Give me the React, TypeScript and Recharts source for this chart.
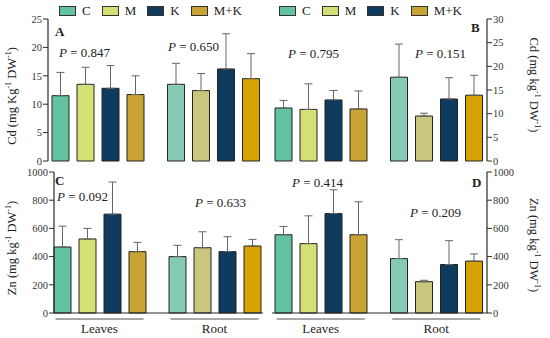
import React from 'react';
import { BarChart, Bar, XAxis, YAxis, ErrorBar, Cell } from 'recharts';

const FONT = "'Liberation Serif', 'Times New Roman', Times, serif";

// ---------- data ----------
const organs = ['Leaves', 'Root'];
const treatments = ['C', 'M', 'K', 'M+K'];
const seriesKeys = ['C', 'M', 'K', 'MK'];

const leafColors = ['#62c2a2', '#d5e074', '#0f3b5f', '#c9a434'];
const rootColors = ['#84cab7', '#c9c77d', '#0f3b5f', '#d7a302'];

const cdTicksA = [0, 5, 10, 15, 20, 25];
const cdTicksB = [0, 5, 10, 15, 20, 25, 30];
const znTicks = [0, 200, 400, 600, 800, 1000];

// means [organ][treatment], upper error-bar ends [organ][treatment]
const meansA = [[11.5, 13.5, 12.8, 11.7], [13.5, 12.4, 16.2, 14.5]];
const upperA = [[15.6, 16.5, 16.8, 15.0], [17.2, 15.4, 22.4, 18.9]];

const meansB = [[11.2, 10.9, 12.9, 11.0], [17.7, 9.5, 13.1, 13.9]];
const upperB = [[12.8, 16.3, 14.9, 14.8], [24.7, 10.1, 17.6, 18.1]];

const meansC = [[468, 525, 701, 435], [400, 463, 435, 475]];
const upperC = [[616, 600, 929, 501], [480, 576, 541, 522]];

const meansD = [[555, 492, 705, 555], [386, 222, 344, 368]];
const upperD = [[614, 689, 874, 789], [520, 232, 513, 419]];

const pA = ['0.847', '0.650'];
const pB = ['0.795', '0.151'];
const pC = ['0.092', '0.633'];
const pD = ['0.414', '0.209'];

function buildRows(means: number[][], upper: number[][]) {
  return organs.map((organ, i) => {
    const row: any = { organ };
    seriesKeys.forEach((k, j) => {
      row[k] = means[i][j];
      row[k + '_err'] = [0, +(upper[i][j] - means[i][j]).toFixed(2)];
    });
    return row;
  });
}

// ---------- helpers ----------
const AXIS = '#2a2a2a';

function AxisTitle(props: any) {
  const { cx, cy, rot, pre, mid } = props;
  return (
    <text
      x={cx}
      y={cy}
      transform={`rotate(${rot} ${cx} ${cy})`}
      textAnchor="middle"
      dominantBaseline="middle"
      fontFamily={FONT}
      fontSize={12.5}
      fill="#222"
    >
      <tspan>{pre}</tspan>
      <tspan dy={-4} fontSize={8}>-1</tspan>
      <tspan dy={4}>{mid}</tspan>
      <tspan dy={-4} fontSize={8}>-1</tspan>
      <tspan dy={4}>)</tspan>
    </text>
  );
}

function OrganTick(props: any) {
  const { x, y, payload } = props;
  return (
    <g>
      <line x1={x - 44} x2={x + 44} y1={y + 6} y2={y + 6} stroke="#8a8a8a" strokeWidth={1.6} />
      <text x={x} y={y + 20} textAnchor="middle" fontFamily={FONT} fontSize={13} fill="#222">
        {payload.value}
      </text>
    </g>
  );
}

function TreatmentLegend(props: { left: number; top: number }) {
  return (
    <div
      style={{
        position: 'absolute',
        left: props.left,
        top: props.top,
        display: 'flex',
        alignItems: 'center',
        fontFamily: FONT,
        fontSize: 13,
        lineHeight: '14px',
        color: '#222',
        whiteSpace: 'nowrap',
      }}
    >
      {treatments.map((t, i) => (
        <div key={t} style={{ display: 'flex', alignItems: 'center', marginRight: 11 }}>
          <span
            style={{
              display: 'inline-block',
              width: 15,
              height: 8,
              background: leafColors[i],
              border: '1px solid #333',
              marginRight: 6,
            }}
          />
          <span>{t}</span>
        </div>
      ))}
    </div>
  );
}

type PanelProps = {
  rows: any[];
  ticks: number[];
  side: 'left' | 'right';
  frameL: number;
  frameR: number;
  frameT: number;
  frameB: number;
  padL: number;
  padR: number;
  showX: boolean;
  title: any;
};

function Panel(p: PanelProps) {
  const axisW = 40;
  const xH = p.showX ? 25 : 0;
  const margin = {
    top: p.frameT,
    bottom: 338 - p.frameB - xH,
    left: p.side === 'left' ? p.frameL - axisW : p.frameL,
    right: p.side === 'right' ? 550 - p.frameR - axisW : 550 - p.frameR,
  };
  const yMax = p.ticks[p.ticks.length - 1];
  return (
    <div style={{ position: 'absolute', left: 0, top: 0 }}>
      <BarChart width={550} height={338} data={p.rows} margin={margin} barCategoryGap={12} barGap={8}>
        <XAxis
          xAxisId="x"
          dataKey="organ"
          padding={{ left: p.padL, right: p.padR }}
          height={xH}
          axisLine={{ stroke: AXIS, strokeWidth: 1.2 }}
          tickLine={false}
          tickSize={0}
          tickMargin={0}
          tick={p.showX ? <OrganTick /> : false}
          interval={0}
        />
        <XAxis
          xAxisId="top"
          orientation="top"
          type="number"
          domain={[0, 1]}
          height={0}
          tick={false}
          tickLine={false}
          axisLine={{ stroke: AXIS, strokeWidth: 1.2 }}
        />
        <YAxis
          yAxisId="v"
          orientation={p.side}
          width={axisW}
          domain={[0, yMax]}
          ticks={p.ticks}
          interval={0}
          tickSize={5}
          tickMargin={1}
          axisLine={{ stroke: AXIS, strokeWidth: 1.2 }}
          tickLine={{ stroke: AXIS }}
          tick={{ fontSize: 10.5, fill: '#333', fontFamily: FONT }}
          label={p.title}
        />
        <YAxis
          yAxisId="f"
          orientation={p.side === 'left' ? 'right' : 'left'}
          type="number"
          domain={[0, 1]}
          width={0}
          tick={false}
          tickLine={false}
          axisLine={{ stroke: AXIS, strokeWidth: 1.2 }}
        />
        {seriesKeys.map((k, j) => (
          <Bar
            key={k}
            xAxisId="x"
            yAxisId="v"
            dataKey={k}
            name={treatments[j]}
            fill={leafColors[j]}
            stroke="#222"
            strokeWidth={1}
            isAnimationActive={false}
          >
            {p.rows.map((r, i) => (
              <Cell key={r.organ} fill={i === 0 ? leafColors[j] : rootColors[j]} />
            ))}
            <ErrorBar dataKey={k + '_err'} direction="y" width={4} stroke="#666" strokeWidth={1} />
          </Bar>
        ))}
      </BarChart>
    </div>
  );
}

function PText(props: { x: number; y: number; v: string }) {
  return (
    <text x={props.x} y={props.y} fontFamily={FONT} fontSize={13} fill="#222">
      <tspan fontStyle="italic">P</tspan>
      <tspan> = {props.v}</tspan>
    </text>
  );
}

function Letter(props: { x: number; y: number; t: string }) {
  return (
    <text x={props.x} y={props.y} fontFamily={FONT} fontSize={13} fontWeight="bold" fill="#222">
      {props.t}
    </text>
  );
}

export default function App() {
  const rowsA = buildRows(meansA, upperA);
  const rowsB = buildRows(meansB, upperB);
  const rowsC = buildRows(meansC, upperC);
  const rowsD = buildRows(meansD, upperD);
  return (
    <div style={{ position: 'absolute', left: 0, top: 0, width: 550, height: 338, background: '#fff', overflow: 'hidden' }}>
      <Panel
        rows={rowsA}
        ticks={cdTicksA}
        side="left"
        frameL={48}
        frameR={263}
        frameT={19}
        frameB={161}
        padL={-8}
        padR={-8}
        showX={false}
        title={<AxisTitle cx={13} cy={96} rot={-90} pre="Cd (mg Kg" mid=" DW" />}
      />
      <Panel
        rows={rowsB}
        ticks={cdTicksB}
        side="right"
        frameL={272}
        frameR={487}
        frameT={19}
        frameB={161}
        padL={-9}
        padR={-7}
        showX={false}
        title={<AxisTitle cx={533} cy={85} rot={90} pre="Cd (mg kg" mid="  DW" />}
      />
      <Panel
        rows={rowsC}
        ticks={znTicks}
        side="left"
        frameL={54}
        frameR={263}
        frameT={172}
        frameB={313}
        padL={-12}
        padR={-9}
        showX={true}
        title={<AxisTitle cx={13} cy={248} rot={-90} pre="Zn (mg kg" mid=" DW" />}
      />
      <Panel
        rows={rowsD}
        ticks={znTicks}
        side="right"
        frameL={272}
        frameR={487}
        frameT={172}
        frameB={313}
        padL={-9}
        padR={-7}
        showX={true}
        title={<AxisTitle cx={533} cy={245} rot={90} pre="Zn (mg kg" mid=" DW" />}
      />
      <TreatmentLegend left={59} top={4} />
      <TreatmentLegend left={279} top={4} />
      <svg width={550} height={338} style={{ position: 'absolute', left: 0, top: 0, pointerEvents: 'none' }}>
        <Letter x={55} y={36} t="A" />
        <PText x={59} y={57} v={pA[0]} />
        <PText x={168} y={51} v={pA[1]} />
        <Letter x={471} y={32} t="B" />
        <PText x={288} y={58} v={pB[0]} />
        <PText x={415} y={58} v={pB[1]} />
        <Letter x={55} y={185} t="C" />
        <PText x={57} y={201} v={pC[0]} />
        <PText x={195} y={207} v={pC[1]} />
        <PText x={292} y={187} v={pD[0]} />
        <Letter x={472} y={187} t="D" />
        <PText x={410} y={217} v={pD[1]} />
      </svg>
    </div>
  );
}
